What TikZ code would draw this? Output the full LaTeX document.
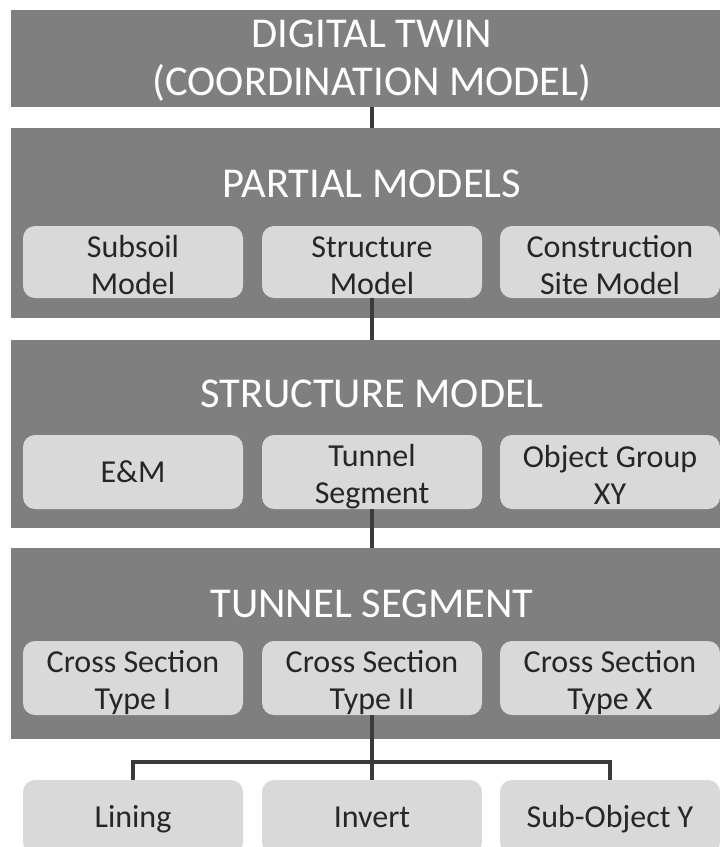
\documentclass[tikz,border=0pt]{standalone}
\usepackage{fontspec}
\setmainfont{Carlito}
\definecolor{bandgray}{HTML}{7F7F7F}
\definecolor{boxgray}{HTML}{D9D9D9}
\definecolor{boxtext}{HTML}{262626}
\definecolor{linegray}{HTML}{3A3A3A}
% labels with fixed line height and depth, so that all boxes centre alike
\newcommand{\oneline}[1]{\rule[-8pt]{0pt}{37pt}#1}
\newcommand{\twolines}[2]{\rule{0pt}{31pt}#1\\#2\rule[-4pt]{0pt}{4pt}}
\begin{document}
\begin{tikzpicture}[x=1pt,y=-1pt,
  band/.style={fill=bandgray, draw=none, minimum width=722pt, inner sep=0pt},
  bandtitle/.style={text=white, font=\fontsize{42.5}{48}\selectfont, align=center, inner sep=0pt},
  item/.style={fill=boxgray, rounded corners=12pt, minimum width=220pt, minimum height=74pt,
               text=boxtext, font=\fontsize{32}{37}\selectfont, align=center, inner sep=0pt},
  link/.style={draw=linegray, line width=3.2pt}
]
\useasboundingbox (0,0) rectangle (720,847);
\begin{scope}
\clip (0,0) rectangle (720,847);

% layer bands
\node[band, minimum height=97pt] (dt) at (372,58.5) {};
\node[bandtitle] (dttitle) at (372,61) {DIGITAL TWIN\\(COORDINATION MODEL)};

\node[band, minimum height=190pt] (pmband) at (372,223) {};
\node[bandtitle] (pmtitle) at (372,184) {PARTIAL MODELS};

\node[band, minimum height=188pt] (smband) at (372,434) {};
\node[bandtitle] (smtitle) at (372,394) {STRUCTURE MODEL};

\node[band, minimum height=191pt] (tsband) at (372,643.5) {};
\node[bandtitle] (tstitle) at (372,604) {TUNNEL SEGMENT};

% partial models
\node[item, minimum height=72pt] (subsoil) at (133,262) {\twolines{Subsoil}{Model}};
\node[item, minimum height=72pt] (pmstruct) at (372,262) {\twolines{Structure}{Model}};
\node[item, minimum height=72pt] (site) at (610,262) {\twolines{Construction}{Site Model}};

% structure model
\node[item] (em) at (133,472) {\oneline{E\&M}};
\node[item] (seg) at (372,472) {\twolines{Tunnel}{Segment}};
\node[item] (group) at (610,472) {\twolines{Object Group}{XY}};

% tunnel segment
\node[item] (cs1) at (133,678) {\twolines{Cross Section}{Type I}};
\node[item] (cs2) at (372,678) {\twolines{Cross Section}{Type II}};
\node[item] (csx) at (610,678) {\twolines{Cross Section}{Type X}};

% sub-objects
\node[item] (lining) at (133,817) {\oneline{Lining}};
\node[item] (invert) at (372,817) {\oneline{Invert}};
\node[item] (subobj) at (610,817) {\oneline{Sub-Object Y}};

% connectors
\draw[link] (dt.south) -- (pmband.north);
\draw[link] (pmstruct.south) -- (smband.north);
\draw[link] (seg.south) -- (tsband.north);
\coordinate (bus) at (372,762);
\draw[link] (cs2.south) -- (invert.north);
\draw[link] (lining.north) |- (bus) -| (subobj.north);
\end{scope}
\end{tikzpicture}
\end{document}
